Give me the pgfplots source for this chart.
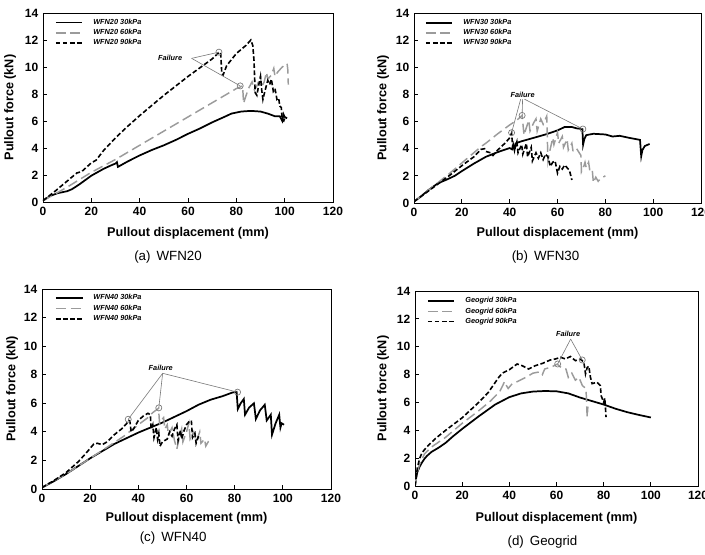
\documentclass[border=0pt]{standalone}
\usepackage{fontspec}
\setmainfont{Liberation Sans}[
  BoldFont={Liberation Sans Bold},
  ItalicFont={Liberation Sans Italic},
  BoldItalicFont={Liberation Sans Bold Italic}]
\newfontfamily\boldsans{Liberation Sans Bold}
\newfontfamily\bolditsans{Liberation Sans Bold Italic}
\usepackage{pgfplots}
\pgfplotsset{compat=1.18}

\definecolor{midgray}{RGB}{155,155,155}
\definecolor{callout}{RGB}{120,120,120}

\newcommand\tickfont{\boldsans\fontsize{9}{10}\selectfont}
\newcommand\labfont{\boldsans\fontsize{9.5}{11}\selectfont}
\newcommand\keyfont{\bolditsans\fontsize{5.5}{6}\selectfont}

\pgfplotsset{
  s30/.style={black, line width=1.3pt, solid},
  s60/.style={midgray, line width=1.1pt, dash pattern=on 7.5pt off 3.5pt},
  s90/.style={black, line width=1.2pt, dash pattern=on 3.5pt off 1.8pt},
  failmark/.style={only marks, mark=o, mark size=2.3pt, mark options={callout, line width=0.5pt, solid}, forget plot},
  failline/.style={callout, line width=0.45pt, solid, forget plot},
  panel/.style={
    scale only axis,
    xmin=0, xmax=120, ymin=0, ymax=14,
    xtick={0,20,...,120}, ytick={0,2,...,14},
    tick align=inside, tick pos=left,
    major tick length=3pt,
    axis line style={line width=0.7pt},
    every tick/.style={black, line width=0.6pt},
    /pgf/number format/assume math mode=true,
    xticklabel={{\tickfont\pgfmathprintnumber{\tick}}},
    yticklabel={{\tickfont\pgfmathprintnumber{\tick}}},
    xlabel={{\labfont Pullout displacement (mm)}},
    ylabel={{\labfont Pullout force (kN)}},
    clip mode=individual,
    legend style={draw=none, fill=none, inner sep=0pt, outer sep=0pt,
      anchor=north west, row sep=1.2pt, column sep=7pt,
      font=\keyfont,
      nodes={inner sep=0.5pt}},
    legend cell align=left,
    legend image code/.code={\draw[##1] (0pt,0pt) -- (20pt,0pt);},
  },
  xlabsh/.style={every axis x label/.style={at={([yshift=-#1]axis description cs:0.5,0)}, anchor=center}},
  ylabsh/.style={every axis y label/.style={at={([xshift=-#1]axis description cs:0,0.5)}, anchor=center, rotate=90}},
}

\begin{document}
\begin{tikzpicture}
\path[use as bounding box] (0pt,0pt) rectangle (528.75pt,415.5pt);

% ---------------- (a) WFN20 ----------------
\begin{axis}[panel, name=pa, width=217.5pt, height=141.75pt,
  at={(32.25pt,264pt)}, anchor=south west,
  xlabsh=23.25pt, ylabsh=24.75pt,
  legend style={at={(axis description cs:0.041,0.972)}}]
\addplot[s30] coordinates {(0,0.1) (3,0.45) (6,0.65) (10,0.8) (12,0.95) (15,1.3) (20,1.95) (25,2.45) (28,2.7) (30,2.85) (30.6,2.95) (31,2.6) (35,3.0) (40,3.45) (45,3.85) (50,4.2) (55,4.6) (60,5.05) (65,5.45) (70,5.9) (75,6.3) (78,6.55) (82,6.7) (86,6.75) (90,6.7) (93,6.55) (96,6.35) (98,6.35) (99,6.0) (99.5,6.5) (100,6.3) (101,6.2)};
\addlegendentry{WFN20 30kPa}
\addplot[s60] coordinates {(0,0.1) (10,1.1) (20,2.2) (30,3.15) (40,4.2) (50,5.25) (60,6.3) (70,7.35) (80,8.4) (82,8.55) (82.6,8.6) (83,7.3) (83.5,7.6) (85,8.4) (86.5,8.9) (87.5,8.3) (88.5,8.6) (90,9.3) (90.5,8.5) (91.5,8.9) (92.5,9.6) (93,9.1) (94.5,9.4) (95.5,9.9) (96,9.3) (97,9.6) (99,10.0) (101,10.25) (101.3,9.8) (101.5,8.7)};
\addlegendentry{WFN20 60kPa}
\addplot[s90] coordinates {(0,0.1) (5,0.8) (10,1.55) (14,2.15) (16,2.25) (20,2.9) (22,3.1) (25,3.8) (30,4.75) (35,5.6) (40,6.4) (45,7.15) (50,7.9) (55,8.6) (60,9.3) (65,9.95) (70,10.6) (73,11.1) (73.5,11.05) (74,9.5) (74.5,9.4) (76,10.1) (80,11.0) (84,11.6) (86,12.0) (86.8,11.6) (87.3,10.5) (87.8,8.1) (88.5,7.9) (89.2,8.6) (90,9.3) (90.5,8.3) (91,7.6) (91.8,8.2) (93,9.0) (93.8,8.7) (94.5,9.1) (95.3,8.2) (96,8.4) (96.8,7.6) (97.5,7.7) (98,7.1) (98.6,7.0) (99,6.1) (99.6,6.0) (100.2,6.3)};
\addlegendentry{WFN20 90kPa}
\addplot[failmark] coordinates {(72.8,11.1) (81.6,8.6)};
\addplot[failline] coordinates {(61.5,10.64) (72.8,11.1)};
\addplot[failline] coordinates {(61.5,10.64) (81.6,8.6)};
\node[font=\keyfont] at (axis cs:52.6,10.64) {Failure};
\end{axis}
\node[font=\fontsize{10}{12}\selectfont] at ([xshift=-15pt,yshift=-41.25pt]pa.south) {(a)\hspace{0.45em}WFN20};

% ---------------- (b) WFN30 ----------------
\begin{axis}[panel, name=pb, width=215.25pt, height=142.5pt,
  at={(310.5pt,263.25pt)}, anchor=south west,
  xlabsh=22.5pt, ylabsh=23.25pt,
  legend style={at={(axis description cs:0.038,0.972)}}]
\addplot[s30] coordinates {(0,0.1) (3,0.5) (6,0.95) (10,1.45) (14,1.75) (17,2.0) (20,2.35) (25,2.9) (30,3.4) (35,3.75) (40,4.05) (41,3.95) (41.5,4.3) (42,3.9) (42.5,4.4) (45,4.55) (50,4.8) (55,5.05) (60,5.35) (63,5.6) (66,5.6) (68,5.5) (70.4,5.45) (70.7,4.3) (71.2,4.7) (72,5.0) (75,5.1) (80,5.05) (83,4.9) (86,4.95) (90,4.8) (94.5,4.65) (95,3.45) (95.5,3.9) (96.5,4.2) (98.5,4.35)};
\addlegendentry{WFN30 30kPa}
\addplot[s60] coordinates {(0,0.1) (5,0.8) (10,1.5) (15,2.2) (20,2.95) (25,3.7) (28,4.15) (30,4.4) (35,5.1) (40,5.75) (43,6.1) (45.2,6.45) (46,5.0) (46.5,5.3) (48,6.1) (48.5,5.3) (50,5.9) (51,6.2) (51.5,5.3) (53,6.2) (54,5.8) (55.5,6.4) (56,3.1) (56.5,3.6) (58,4.8) (58.5,4.3) (60,5.2) (60.5,4.4) (62,4.9) (62.5,4.1) (64,4.7) (64.5,3.9) (66,4.4) (66.5,3.8) (68,4.0) (69.8,3.5) (70,2.3) (71,2.7) (71.5,3.0) (72,2.6) (73,3.0) (73.5,2.4) (74.5,2.5) (75,1.5) (76,1.9) (77,1.6) (78,1.8) (80,2.0)};
\addlegendentry{WFN30 60kPa}
\addplot[s90] coordinates {(0,0.1) (5,0.75) (10,1.4) (15,2.05) (20,2.75) (25,3.4) (28,3.95) (29.5,4.0) (30,3.8) (32,3.7) (33,3.5) (35,3.9) (38,4.4) (40,4.8) (40.8,5.15) (41.3,4.1) (42,3.9) (43,4.5) (43.5,3.7) (45,4.3) (45.5,3.6) (47,4.4) (47.5,3.4) (49,4.1) (49.5,3.1) (51,3.7) (52,3.3) (53,3.7) (54,3.2) (55,3.6) (56,3.4) (57,2.7) (58,3.0) (59,3.1) (60,2.2) (61,2.7) (62,2.5) (63,2.8) (64,2.6) (65,2.4) (66,1.7)};
\addlegendentry{WFN30 90kPa}
\addplot[failmark] coordinates {(40.8,5.18) (45.2,6.45) (70.6,5.45)};
\addplot[failline] coordinates {(44.6,7.65) (40.8,5.18)};
\addplot[failline] coordinates {(45.4,7.65) (45.2,6.45)};
\addplot[failline] coordinates {(46.2,7.65) (70.6,5.45)};
\node[font=\keyfont] at (axis cs:45.4,7.98) {Failure};
\end{axis}
\node[font=\fontsize{10}{12}\selectfont] at ([xshift=-9pt,yshift=-40.5pt]pb.south) {(b)\hspace{0.45em}WFN30};

% ---------------- (c) WFN40 ----------------
\begin{axis}[panel, name=pc, width=216.75pt, height=150pt,
  at={(31.5pt,48.75pt)}, anchor=south west,
  xlabsh=21.75pt, ylabsh=22.5pt,
  legend style={at={(axis description cs:0.045,0.975)}}]
\addplot[s30] coordinates {(0,0.1) (5,0.55) (10,1.05) (15,1.6) (20,2.15) (25,2.65) (30,3.15) (35,3.55) (40,3.95) (45,4.3) (50,4.65) (55,5.05) (60,5.45) (65,5.9) (70,6.25) (75,6.5) (79,6.75) (80.8,6.8) (81.3,5.6) (82.5,6.0) (83.8,6.3) (84.3,5.2) (86,5.7) (88,6.0) (88.8,4.9) (90.5,5.5) (92.5,5.9) (93.3,4.8) (95,5.2) (95.5,3.8) (97,4.6) (98.5,5.2) (99,4.3) (99.5,4.6) (100.5,4.5)};
\addlegendentry{WFN40 30kPa}
\addplot[s60] coordinates {(0,0.1) (10,1.05) (20,2.15) (30,3.25) (34,3.7) (37,4.1) (40,4.5) (44,5.0) (46,5.35) (48.4,5.65) (48.8,4.6) (49.5,4.8) (50.5,5.0) (51,4.2) (52,4.5) (52.5,3.8) (54,4.3) (55,3.4) (56,2.8) (57,3.6) (58,4.2) (58.5,3.3) (60,4.0) (61,4.6) (61.5,3.5) (63,4.0) (64,3.3) (65.5,4.0) (66,3.2) (67.5,3.5) (68,3.0) (69,3.3) (70,3.1)};
\addlegendentry{WFN40 60kPa}
\addplot[s90] coordinates {(0,0.1) (5,0.6) (10,1.15) (15,1.9) (18,2.45) (20,2.85) (21.5,3.15) (23,3.2) (25,3.1) (27,3.3) (30,3.8) (33,4.2) (35,4.55) (36,4.8) (36.5,4.75) (37,4.0) (38,4.2) (40,4.8) (42,5.1) (44,5.3) (45,5.2) (45.3,4.2) (46,4.5) (46.5,3.6) (47.5,4.3) (48,3.5) (48.5,3.9) (49,3.0) (50,3.3) (52,3.5) (53,4.0) (54,3.7) (55,4.2) (56,4.5) (56.5,3.4) (57.5,4.1) (58,3.5) (59,4.1) (60,4.5) (61,4.7) (62,4.8) (62.5,3.6) (63.5,3.9) (64,3.2) (65,3.7)};
\addlegendentry{WFN40 90kPa}
\addplot[failmark] coordinates {(35.8,4.88) (48.5,5.68) (81.2,6.78)};
\addplot[failline] coordinates {(50.1,8.1) (35.8,4.88)};
\addplot[failline] coordinates {(50.1,8.1) (48.5,5.68)};
\addplot[failline] coordinates {(50.1,8.1) (81.2,6.78)};
\node[font=\keyfont] at (axis cs:49.3,8.5) {Failure};
\end{axis}
\node[font=\fontsize{10}{12}\selectfont] at ([xshift=-10pt,yshift=-36.75pt]pc.south) {(c)\hspace{0.45em}WFN40};

% ---------------- (d) Geogrid ----------------
\begin{axis}[panel, name=pd, width=212.25pt, height=146.25pt,
  at={(311.25pt,51pt)}, anchor=south west,
  xlabsh=24pt, ylabsh=24pt,
  legend style={at={(axis description cs:0.042,0.97)}}]
\addplot[s30] coordinates {(0,0) (0.5,0.6) (1,1.0) (2,1.4) (3,1.7) (4,1.95) (5,2.15) (7,2.45) (10,2.75) (13,3.1) (16,3.55) (20,4.1) (27,5.0) (34,5.85) (40,6.38) (45,6.65) (50,6.78) (55,6.82) (60,6.8) (65,6.65) (70,6.35) (75,6.1) (80,5.85) (85,5.55) (90,5.3) (95,5.1) (100,4.92)};
\addlegendentry{Geogrid 30kPa}
\addplot[s60] coordinates {(0,0) (1,1.0) (2,1.6) (4,2.3) (7,2.8) (13,3.5) (20,4.5) (27,5.4) (32,6.1) (36,6.8) (38,7.5) (38.8,7.2) (39.5,7.0) (41,7.3) (44,7.55) (47,7.8) (50,8.1) (53,8.2) (54,8.0) (55,8.4) (58,8.55) (60.3,8.75) (62,8.5) (64,8.4) (65,7.8) (66.5,8.1) (68,7.6) (69.5,7.8) (71,7.2) (72.5,7.0) (73,4.95) (73.3,5.7)};
\addlegendentry{Geogrid 60kPa}
\addplot[s90] coordinates {(0,0) (1,1.3) (2,2.0) (3,2.4) (5,2.8) (8.6,3.4) (13,4.0) (20,4.9) (27,6.0) (31,6.7) (35.5,7.8) (37,8.1) (40,8.35) (43.3,8.76) (45.4,8.64) (48.2,8.4) (51,8.64) (54,8.8) (57.4,9.05) (59.5,9.12) (61.7,9.24) (63.8,9.12) (65.9,9.3) (68,9.0) (70.2,9.1) (71.6,8.88) (72.3,8.05) (73,8.5) (73.7,8.6) (74.4,7.8) (75.1,7.35) (77.2,7.45) (78.6,7.2) (78.9,6.5) (80,6.0) (80.5,6.3) (81,4.95)};
\addlegendentry{Geogrid 90kPa}
\addplot[failmark] coordinates {(60.5,8.76) (70.9,9.05)};
\addplot[failline] coordinates {(66.0,10.55) (60.5,8.76)};
\addplot[failline] coordinates {(66.0,10.55) (70.9,9.05)};
\node[font=\keyfont] at (axis cs:64.9,10.95) {Failure};
\end{axis}
\node[font=\fontsize{10}{12}\selectfont] at ([xshift=-10.5pt,yshift=-42pt]pd.south) {(d)\hspace{0.45em}Geogrid};
\end{tikzpicture}
\end{document}
